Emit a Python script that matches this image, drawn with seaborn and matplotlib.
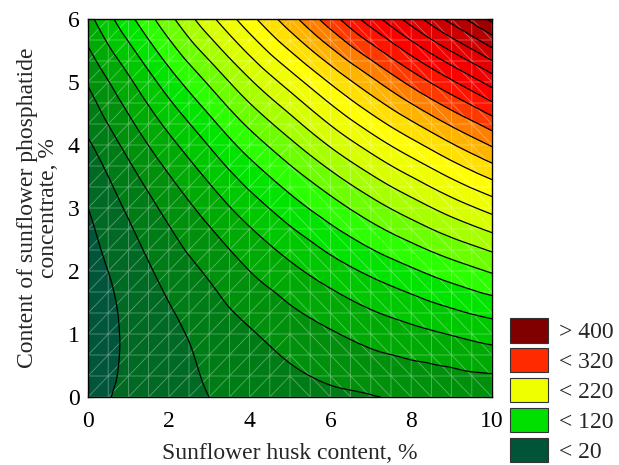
import matplotlib
matplotlib.use("Agg")
import matplotlib.pyplot as plt
import matplotlib.tri as mtri
from matplotlib.patches import Patch
import numpy as np
import seaborn as sns

# Response at the nodes of a 1 x 1 grid
husk = [0, 1, 2, 3, 4, 5, 6, 7, 8, 9, 10]
phosphatide = [0, 1, 2, 3, 4, 5, 6]
# one row per phosphatide level, columns follow husk content
resp_y0 = [15, 24, 33, 40, 46, 51, 56, 59, 62, 63, 64]
resp_y1 = [9, 23, 35, 47, 58, 69, 78, 87, 94, 101, 108]
resp_y2 = [11, 29, 47, 63, 80, 95, 110, 124, 137, 150, 162]
resp_y3 = [20, 43, 66, 88, 110, 131, 151, 171, 190, 209, 227]
resp_y4 = [37, 66, 94, 121, 149, 175, 202, 228, 253, 278, 302]
resp_y5 = [62, 96, 130, 163, 197, 229, 262, 294, 326, 357, 388]
resp_y6 = [94, 134, 174, 214, 253, 292, 331, 370, 409, 447, 485]

levels = list(range(20, 481, 20))
legend_labels = ["> 400", "< 320", "< 220", "< 120", "< 20"]

# Statistica-like band colours (below 20 ... above 480)
band_colors = [
    "#00553a", "#006a24", "#007c16", "#00900c", "#00aa04", "#00c800",
    "#00e400", "#2cff00", "#6cff00", "#a8ff00", "#d8ff00", "#f0ff00",
    "#ffff00", "#ffe000", "#ffb400", "#ff8000", "#ff3a00", "#ff1400",
    "#ff0000", "#f20000", "#e20000", "#cc0000", "#b40000", "#9c0000",
    "#860000",
]
legend_colors = ["#800000", "#ff2a00", "#f0ff00", "#00e000", "#005438"]

sns.set_style("ticks")
plt.rcParams["font.family"] = ["Liberation Serif", "DejaVu Serif"]

fig = plt.figure(figsize=(6.19, 4.65), dpi=100)
ax = fig.add_axes([88 / 619, 1 - 397 / 465, 404 / 619, 378 / 465])

X, Y = np.meshgrid(husk, phosphatide)
Z = np.array([resp_y0, resp_y1, resp_y2, resp_y3, resp_y4, resp_y5, resp_y6], dtype=float)

tri = mtri.Triangulation(X.ravel().astype(float), Y.ravel().astype(float))
interp = mtri.CubicTriInterpolator(tri, Z.ravel(), kind="geom")
refiner = mtri.UniformTriRefiner(tri)
tri_f, z_f = refiner.refine_field(Z.ravel(), triinterpolator=interp, subdiv=4)

fill_levels = [z_f.min() - 1] + levels + [z_f.max() + 1]
ax.tricontourf(tri_f, z_f, levels=fill_levels, colors=band_colors)
ax.tricontour(tri_f, z_f, levels=levels, colors="black", linewidths=0.9)

# faint white wireframe of the fitted grid
mx, my = np.meshgrid(np.linspace(0, 10, 21), np.linspace(0, 6, 19))
nx = 21
tris = []
for j in range(18):
    for i in range(20):
        a = j * nx + i
        b, c, d = a + 1, a + nx, a + nx + 1
        if i < 10:
            tris += [[a, b, d], [a, d, c]]
        else:
            tris += [[a, b, c], [b, d, c]]
mesh = mtri.Triangulation(mx.ravel(), my.ravel(), np.array(tris))
ax.triplot(mesh, color="white", linewidth=0.6, alpha=0.35)

ax.set_xlim(0, 10)
ax.set_ylim(0, 6)
ax.set_xticks([0, 2, 4, 6, 8, 10])
ax.set_yticks([0, 1, 2, 3, 4, 5, 6])
ax.tick_params(direction="in", length=4, width=0.8, top=True, right=True,
               labelsize=17, pad=6, colors="black")
ax.tick_params(axis="x", pad=10)
for sp in ax.spines.values():
    sp.set_color("black")
    sp.set_linewidth(1.0)

ax.set_xlabel("Sunflower husk content, %", fontsize=17, labelpad=8)
ax.set_ylabel("Content of sunflower phosphatide\nconcentrate, %", fontsize=17,
              labelpad=6, linespacing=1.0)

handles = [Patch(facecolor=c, edgecolor="#333333", linewidth=0.8) for c in legend_colors]
fig.legend(handles, legend_labels, loc="lower left",
           bbox_to_anchor=(508 / 619, 0.0), frameon=False, fontsize=17,
           handlelength=1.6, handleheight=1.2, labelspacing=0.2,
           handletextpad=0.45, borderaxespad=0.0, borderpad=0.1)

fig.savefig("out.png", dpi=100)
